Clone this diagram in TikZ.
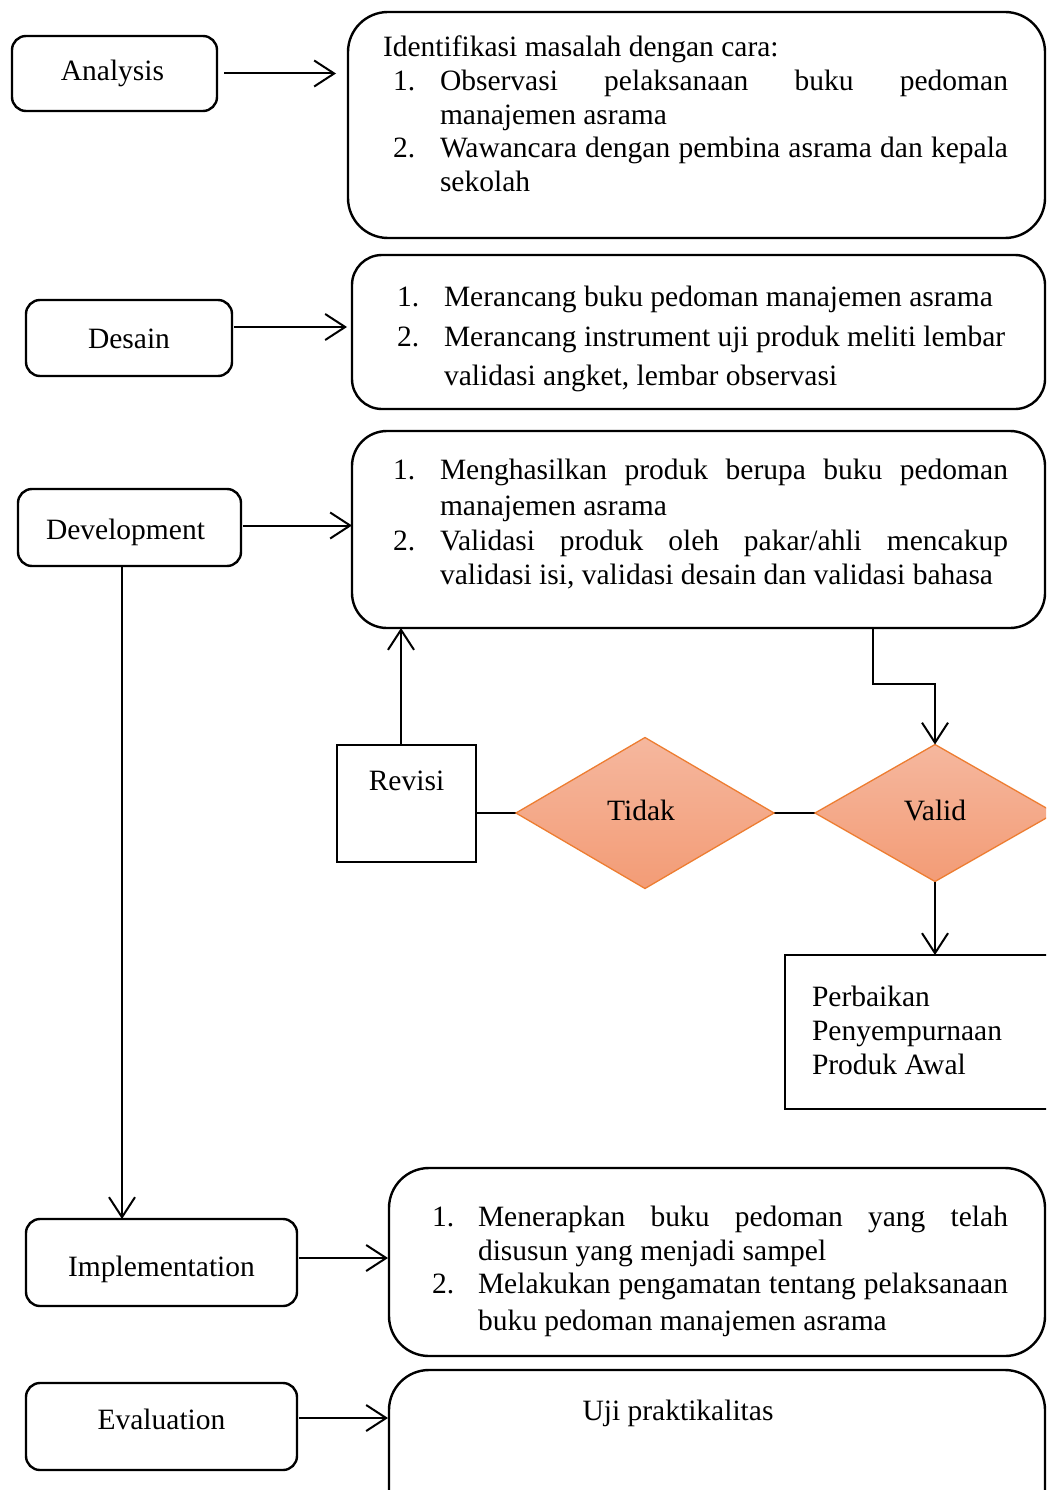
\documentclass[tikz,border=0pt]{standalone}
\usepackage{fontspec}
\setmainfont{Liberation Serif}
\usetikzlibrary{arrows.meta,shapes.geometric}
\begin{document}
\begin{tikzpicture}[x=1pt,y=-1pt,
  every node/.style={font=\fontsize{29.5}{34}\selectfont, inner sep=0pt, outer sep=0pt},
  stage/.style={draw, line width=2.4pt, rounded corners=14pt, rectangle, text height=21pt, text depth=6pt},
  panel/.style={draw, line width=2.4pt, rectangle},
  plain/.style={draw, line width=2.4pt, rectangle},
  txt/.style={anchor=base west},
  decis/.style={diamond, draw=ordiamond, line width=1.3pt,
     top color=diatop, bottom color=diabot},
  conn/.style={line width=2pt, -{Straight Barb[length=20pt,width=26pt]}},
  link/.style={line width=2.4pt}
]
\definecolor{ordiamond}{HTML}{ED7D31}
\definecolor{diatop}{HTML}{F5B79E}
\definecolor{diabot}{HTML}{F39C76}
\useasboundingbox (0,0) rectangle (1046,1490);
\clip (0,0) rectangle (1046,1490);

% left stage boxes
\node[stage, minimum width=205pt, minimum height=75pt] (an) at (114.5,73.5) {\hspace*{-4pt}Analysis};
\node[stage, minimum width=206pt, minimum height=76pt] (de) at (129,338) {\raisebox{-2.5pt}{Desain}};
\node[stage, minimum width=223pt, minimum height=77pt] (dev) at (129.5,527.5) {\hspace*{-8pt}\raisebox{-4pt}{Development}};
\node[stage, minimum width=271pt, minimum height=87pt] (imp) at (161.5,1262.5) {\raisebox{-6pt}{Implementation}};
\node[stage, minimum width=271pt, minimum height=87pt] (ev) at (161.5,1426.5) {\raisebox{5pt}{Evaluation}};

% right panels
\node[panel, rounded corners=40pt, minimum width=697pt, minimum height=226pt] (b1) at (696.5,125) {};
\node[panel, rounded corners=30pt, minimum width=693pt, minimum height=154pt] (b2) at (698.5,332) {};
\node[panel, rounded corners=35pt, minimum width=693pt, minimum height=197pt] (b3) at (698.5,529.5) {};
\node[panel, rounded corners=40pt, minimum width=656pt, minimum height=188pt] (b4) at (717,1262) {};
\node[panel, rounded corners=40pt, minimum width=656pt, minimum height=160pt] (b5) at (717,1450) {};

% box 1 text
\node[txt] (t1a) at (383,57) {Identifikasi masalah dengan cara:};
\node[txt] (t1b) at (393,91) {1.};
\node[txt] (t1c) at (440,91) {\makebox[568pt][s]{Observasi pelaksanaan buku pedoman}};
\node[txt] (t1d) at (440,125) {manajemen asrama};
\node[txt] (t1e) at (393,158) {2.};
\node[txt] (t1f) at (440,158) {\makebox[568pt][s]{Wawancara dengan pembina asrama dan kepala}};
\node[txt] (t1g) at (440,192) {sekolah};

% box 2 text
\node[txt] (t2a) at (397,306) {1.};
\node[txt] (t2b) at (444,306) {Merancang buku pedoman manajemen asrama};
\node[txt] (t2c) at (397,346) {2.};
\node[txt] (t2d) at (444,346) {Merancang instrument uji produk meliti lembar};
\node[txt] (t2e) at (444,385) {validasi angket, lembar observasi};

% box 3 text
\node[txt] (t3a) at (393,479) {1.};
\node[txt] (t3b) at (440,479) {\makebox[568pt][s]{Menghasilkan produk berupa buku pedoman}};
\node[txt] (t3c) at (440,515) {manajemen asrama};
\node[txt] (t3d) at (393,550) {2.};
\node[txt] (t3e) at (440,550) {\makebox[568pt][s]{Validasi produk oleh pakar/ahli mencakup}};
\node[txt] (t3f) at (440,584) {validasi isi, validasi desain dan validasi bahasa};

% box 4 text
\node[txt] (t4a) at (432,1226) {1.};
\node[txt] (t4b) at (478,1226) {\makebox[530pt][s]{Menerapkan buku pedoman yang telah}};
\node[txt] (t4c) at (478,1260) {disusun yang menjadi sampel};
\node[txt] (t4d) at (432,1293) {2.};
\node[txt] (t4e) at (478,1293) {\makebox[530pt][s]{Melakukan pengamatan tentang pelaksanaan}};
\node[txt] (t4f) at (478,1330) {buku pedoman manajemen asrama};

% box 5 text
\node[anchor=base] (t5) at (678,1420) {Uji praktikalitas};

% revision / decision part
\node[plain, minimum width=139pt, text height=45pt, text depth=72pt] (rev) at (406.5,803.5) {Revisi};
\node[plain, minimum width=280pt, minimum height=154pt] (perb) at (925,1032) {};
\node[txt] (p1) at (812,1006) {Perbaikan};
\node[txt] (p2) at (812,1040) {Penyempurnaan};
\node[txt] (p3) at (812,1074) {Produk Awal};

\coordinate (bend) at (873,684);
\coordinate (dpos) at (645,813);

% connectors (drawn before diamonds)
\draw[link] (rev.east |- dpos) -- (dpos);
\draw[link] (dpos) -- (935,813);

\node[decis, minimum width=258pt, minimum height=151pt] (tidak) at (dpos) {\hspace*{-8pt}\raisebox{5pt}{Tidak}};
\node[decis, minimum width=240pt, minimum height=137pt] (valid) at (935,813) {\raisebox{5pt}{Valid}};

\draw[conn, shorten <=7pt, shorten >=12pt] (an.east) -- (an.east -| b1.west);
\draw[conn, shorten <=2pt, shorten >=5pt] ([yshift=11pt]de.east) -- ([yshift=11pt]de.east -| b2.west);
\draw[conn, shorten <=2pt] ([yshift=2pt]dev.east) -- ([yshift=2pt]dev.east -| b3.west);
\draw[conn, shorten <=2pt, shorten >=1pt] ([yshift=4.5pt]imp.east) -- ([yshift=4.5pt]imp.east -| b4.west);
\draw[conn, shorten <=2pt, shorten >=1pt] ([yshift=8.5pt]ev.east) -- ([yshift=8.5pt]ev.east -| b5.west);
\draw[conn] ([xshift=-7.5pt]dev.south) -- ([xshift=-7.5pt]dev.south |- imp.north);
\draw[conn] ([xshift=-5.5pt]rev.north) -- ([xshift=-5.5pt]rev.north |- b3.south);
\draw[conn] (bend |- b3.south) -- (bend) -- (bend -| valid.north) -- (valid.north);
\draw[conn] (valid.south) -- (valid.south |- perb.north);
\end{tikzpicture}
\end{document}
